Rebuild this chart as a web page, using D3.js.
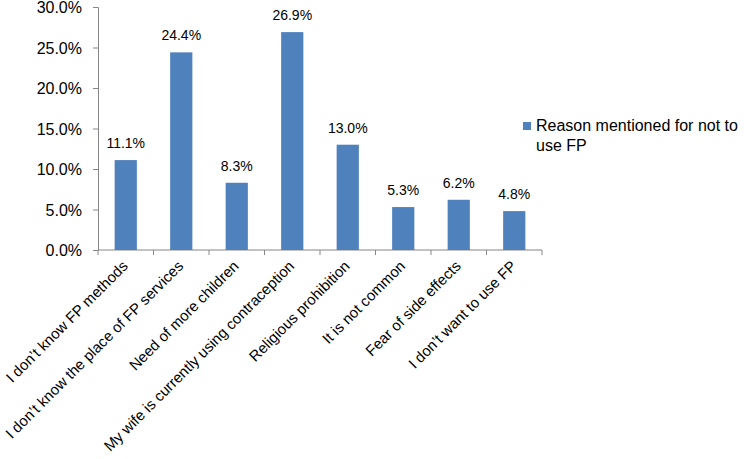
<!DOCTYPE html>
<html>
<head>
<meta charset="UTF-8">
<title>Reasons for not using FP</title>
<style>
  body { margin: 0; background: #fff; }
  text { font-family: "Liberation Sans", Arial, sans-serif; fill: #000; }
</style>
</head>
<body>
<div id="app"></div>
<script src="https://d3js.org/d3.v7.min.js"></script>
<script>
let categories = [
  'I don\u2019t know FP methods',
  'I don\u2019t know the place of FP services',
  'Need of more children',
  'My wife is currently using contraception',
  'Religious prohibition',
  'It is not common',
  'Fear of side effects',
  'I don\u2019t want to use FP'
]
let values = [11.1, 24.4, 8.3, 26.9, 13.0, 5.3, 6.2, 4.8]
let yTicks = [0, 5, 10, 15, 20, 25, 30]
let seriesName = ['Reason mentioned for not to', 'use FP']

let W = 750
let H = 459
let mLeft = 98, mRight = 542, mTop = 7, mBottom = 250
let color = '#4F81BD'
let axisColor = '#868686'

let svg = d3.select('#app').append('svg')
  .attr('width', W)
  .attr('height', H)

let x = d3.scaleBand()
  .domain(categories)
  .range([mLeft, mRight])
  .paddingInner(0.6)
  .paddingOuter(0.3)

let y = d3.scaleLinear()
  .domain([0, 30])
  .range([mBottom, mTop])

// y axis
let yAxis = svg.append('g')
  .attr('transform', 'translate(' + mLeft + ',0)')
  .call(d3.axisLeft(y).tickValues(yTicks).tickSize(5).tickPadding(11)
    .tickFormat(d => d.toFixed(1) + '%'))
yAxis.select('.domain').attr('stroke', axisColor)
yAxis.selectAll('.tick line').attr('stroke', axisColor)
yAxis.selectAll('.tick text')
  .style('font-size', '16px')
  .attr('dy', '0.35em')

// x axis, ticks between categories
let bounds = d3.range(categories.length + 1).map(i => mLeft + i * (mRight - mLeft) / categories.length)
let xg = svg.append('g')
xg.append('line')
  .attr('x1', mLeft).attr('x2', mRight)
  .attr('y1', mBottom).attr('y2', mBottom)
  .attr('stroke', axisColor)
xg.selectAll('.xt').data(bounds).enter()
  .append('line')
  .attr('x1', d => d).attr('x2', d => d)
  .attr('y1', mBottom).attr('y2', mBottom + 5)
  .attr('stroke', axisColor)

// bars
svg.selectAll('rect.bar')
  .data(values).enter()
  .append('rect')
  .attr('class', 'bar')
  .attr('x', (d, i) => x(categories[i]))
  .attr('width', x.bandwidth())
  .attr('y', d => y(d))
  .attr('height', d => mBottom - y(d))
  .attr('fill', color)

// value labels
svg.selectAll('text.val')
  .data(values).enter()
  .append('text')
  .attr('class', 'val')
  .attr('x', (d, i) => x(categories[i]) + x.bandwidth() / 2)
  .attr('y', d => y(d) - 12)
  .attr('text-anchor', 'middle')
  .style('font-size', '14px')
  .text(d => d.toFixed(1) + '%')

// category labels, rotated
svg.selectAll('text.cat')
  .data(categories).enter()
  .append('text')
  .attr('class', 'cat')
  .attr('text-anchor', 'end')
  .attr('transform', d => 'translate(' + (x(d) + x.bandwidth() / 2 + 3) + ',' + (mBottom + 17) + ') rotate(-45)')
  .style('font-size', '15px')
  .text(d => d)

// legend
let lg = svg.append('g').attr('transform', 'translate(523,122)')
lg.append('rect')
  .attr('width', 8).attr('height', 8)
  .attr('fill', color)
lg.selectAll('text')
  .data(seriesName).enter()
  .append('text')
  .attr('x', 13)
  .attr('y', (d, i) => 9 + i * 20)
  .style('font-size', '16px')
  .text(d => d)
</script>
</body>
</html>
